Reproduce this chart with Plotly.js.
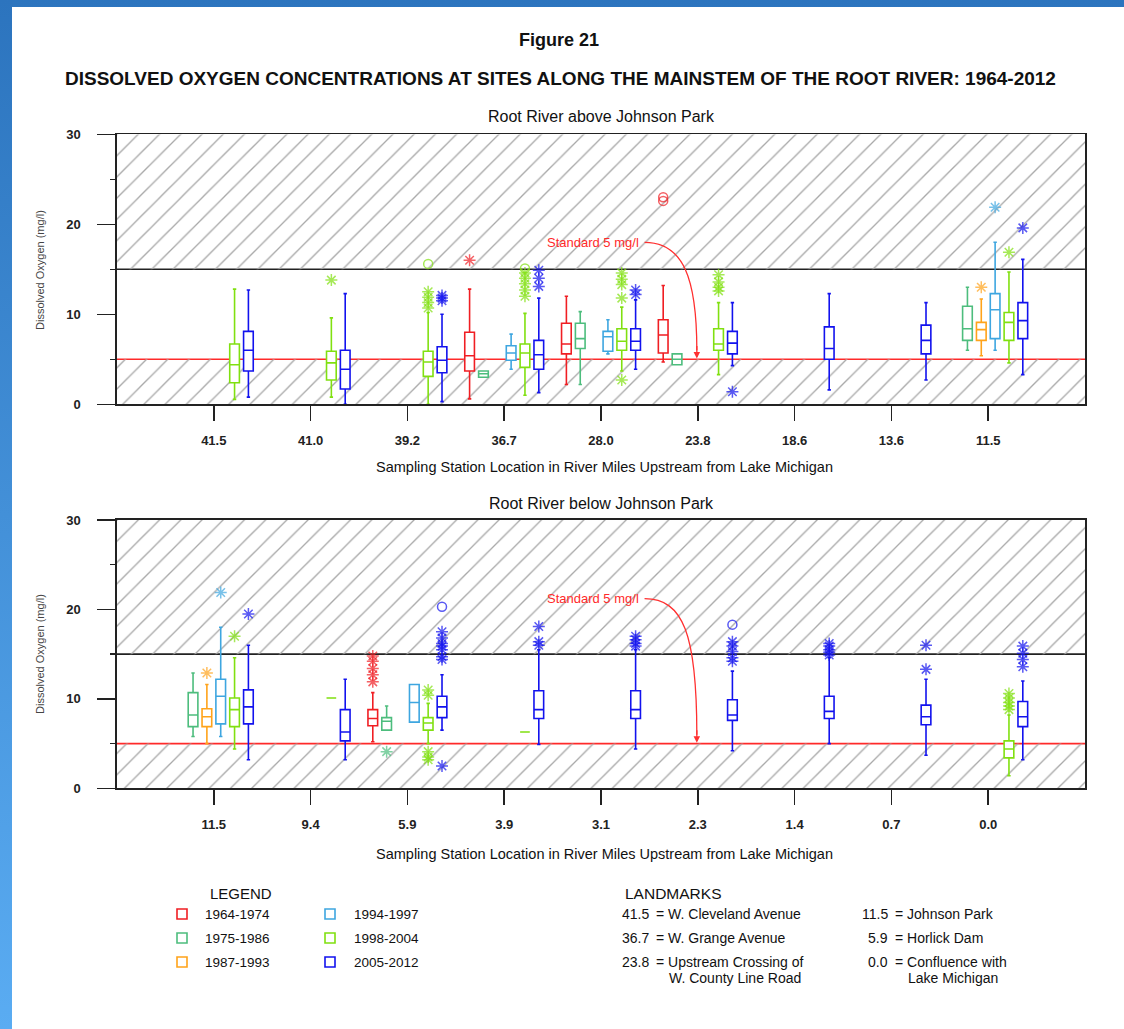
<!DOCTYPE html>
<html><head><meta charset="utf-8">
<script src="https://cdn.plot.ly/plotly-3.0.1.min.js"></script>
<style>
html,body{margin:0;padding:0;width:1124px;height:1029px;overflow:hidden;}
body{background:linear-gradient(to bottom,#2c74be,#5aacf2);}
#sheet{position:absolute;left:12px;top:7px;width:1112px;height:1022px;background:#fff;}
#chart{position:absolute;left:0;top:0;width:1124px;height:1029px;}
</style></head><body>
<div id="sheet"></div><div id="chart"></div>
<script>
// ---------------- DATA ----------------
const PERIODS = ['1964-1974','1975-1986','1987-1993','1994-1997','1998-2004','2005-2012'];
const TOP_SITES = ['41.5','41.0','39.2','36.7','28.0','23.8','18.6','13.6','11.5'];
const BOTTOM_SITES = ['11.5','9.4','5.9','3.9','3.1','2.3','1.4','0.7','0.0'];

// top panel boxes (site index, period index, whisker low, q1, median, q3, whisker high)
const TOP_SITE   = [0,0, 1,1, 2,2, 3,3,3,3,3, 4,4,4,4,4, 5,5,5,5, 6, 7, 8,8,8,8,8];
const TOP_PERIOD = [4,5, 4,5, 4,5, 0,1,3,4,5, 0,1,3,4,5, 0,1,4,5, 5, 5, 1,2,3,4,5];
const TOP_LOW  = [0.55,0.8, 0.8,0.0, 0.0,0.3, 0.6,3.0,3.9,1.0,1.3, 2.2,2.2,5.6,3.7,3.9, 4.7,4.4,3.3,4.3, 1.6, 2.7, 6.0,5.4,6.0,4.6,3.3];
const TOP_Q1   = [2.4,3.7, 2.7,1.7, 3.1,3.5, 3.7,3.0,4.9,4.1,3.9, 5.6,6.2,5.9,6.0,6.0, 5.7,4.4,6.0,5.6, 5.0, 5.6, 7.1,7.1,7.3,7.1,7.3];
const TOP_MED  = [4.4,6.0, 4.6,3.9, 4.7,4.9, 5.4,3.4,5.7,5.7,5.5, 6.7,7.3,7.5,7.0,7.0, 7.7,5.0,6.7,6.8, 6.2, 7.1, 8.4,8.3,10.5,9.1,9.3];
const TOP_Q3   = [6.7,8.1, 5.9,6.0, 5.9,6.4, 8.0,3.7,6.5,6.7,7.1, 9.0,9.0,8.1,8.4,8.4, 9.4,5.6,8.4,8.1, 8.6, 8.8, 10.9,9.1,12.3,10.2,11.3];
const TOP_HIGH = [12.8,12.7, 9.6,12.3, 10.2,10.0, 12.8,3.7,7.8,10.1,11.8, 12.0,10.3,9.4,10.8,11.6, 13.2,5.6,11.3,11.3, 12.3, 11.3, 13.0,11.7,18.0,14.7,16.1];

// top panel outliers
const TOP_OUT_SITE   = [1, 2,2,2,2,2, 2,2,2, 3, 3,3,3,3,3,3, 3,3,3, 4,4,4,4,4, 4,4, 5,5, 5,5,5,5, 5, 8,8,8,8];
const TOP_OUT_PERIOD = [4, 4,4,4,4,4, 5,5,5, 0, 4,4,4,4,4,4, 5,5,5, 4,4,4,4,4, 5,5, 0,0, 4,4,4,4, 5, 2,3,4,5];
const TOP_OUT_VALUE  = [13.8, 15.6,12.5,11.9,11.3,10.7, 12.1,11.8,11.5, 16.0, 15.1,14.6,14.0,13.4,12.7,12.0, 14.9,14.0,13.1, 14.6,13.9,13.3,11.8,2.7, 12.7,12.2, 23.0,22.6, 14.4,13.6,13.0,12.6, 1.4, 13.0,21.9,16.9,19.6];
const TOP_OUT_KIND   = ['s', 'c','s','s','s','s', 's','s','s', 's', 'c','s','s','s','s','s', 's','s','s', 's','s','s','s','s', 's','s', 'c','c', 's','s','s','s', 's', 's','s','s','s'];

// bottom panel boxes
const BOT_SITE   = [0,0,0,0,0, 1,1, 2,2,2,2,2, 3,3, 4, 5, 6, 7, 8,8];
const BOT_PERIOD = [1,2,3,4,5, 4,5, 0,1,3,4,5, 4,5, 5, 5, 5, 5, 4,5];
const BOT_LOW  = [5.8,5.0,5.8,4.4,3.2, 10.1,3.2, 5.2,6.5,7.4,5.0,6.5, 6.3,4.9, 4.4, 4.2, 5.0, 3.7, 1.4,3.2];
const BOT_Q1   = [6.9,6.9,7.2,6.9,7.2, 10.1,5.3, 7.0,6.5,7.4,6.5,7.9, 6.3,7.8, 7.8, 7.6, 7.8, 7.1, 3.4,6.9];
const BOT_MED  = [8.2,8.0,10.3,8.8,9.1, 10.1,6.3, 7.8,7.5,9.6,7.3,9.1, 6.3,8.8, 8.8, 8.2, 8.6, 8.0, 4.4,8.0];
const BOT_Q3   = [10.7,8.9,12.2,10.1,11.0, 10.1,8.8, 8.8,7.9,11.6,7.9,10.3, 6.3,10.9, 10.9, 9.9, 10.3, 9.3, 5.3,9.7];
const BOT_HIGH = [12.9,11.6,18.0,14.6,16.0, 10.1,12.2, 10.7,9.2,11.6,9.5,12.7, 6.3,15.5, 15.5, 13.1, 14.6, 12.2, 8.2,12.0];

// bottom panel outliers
const BOT_OUT_SITE   = [0,0,0,0, 2,2,2,2,2, 2, 2,2,2,2,2, 2,2,2,2,2,2,2,2,2, 3,3,3, 4,4,4,4, 5,5,5,5,5,5, 6,6,6,6,6, 7,7, 8,8,8,8,8, 8,8,8,8];
const BOT_OUT_PERIOD = [2,3,4,5, 0,0,0,0,0, 1, 4,4,4,4,4, 5,5,5,5,5,5,5,5,5, 5,5,5, 5,5,5,5, 5,5,5,5,5,5, 5,5,5,5,5, 5,5, 4,4,4,4,4, 5,5,5,5];
const BOT_OUT_VALUE  = [12.9,21.9,17.0,19.5, 14.8,14.2,13.4,12.7,11.9, 4.1, 11.0,10.4,4.1,3.5,3.2, 20.3,17.5,16.8,16.2,15.9,15.5,14.7,14.4,2.5, 18.1,16.4,16.0, 17.0,16.6,16.2,15.9, 18.3,16.4,15.9,15.3,14.6,14.2, 16.2,15.9,15.5,15.2,14.9, 16.0,13.3, 10.6,10.1,9.6,9.2,8.8, 15.9,15.1,14.4,13.6];
const BOT_OUT_KIND   = ['s','s','s','s', 's','s','s','s','s', 's', 's','s','s','s','s', 'c','s','s','s','s','s','s','s','s', 's','s','s', 's','s','s','s', 'c','s','s','s','s','s', 's','s','s','s','s', 's','s', 's','s','s','s','s', 's','s','s','s'];

const STANDARD = 5, UPPER_REF = 15, Y_MAX = 30;
const LANDMARK_NUM  = ['41.5','36.7','23.8','11.5','5.9','0.0'];
const LANDMARK_NAME = ['W. Cleveland Avenue','W. Grange Avenue','Upstream Crossing of','Johnson Park','Horlick Dam','Confluence with'];
const LANDMARK_NAME2 = ['','','W. County Line Road','','','Lake Michigan'];

// ---------------- STYLE / LAYOUT ----------------
const COLORS = ['#f01e23','#4dbd7d','#ffa31a','#3ea6e0','#80e010','#1212ee'];
const FONT = 'Liberation Sans, Arial, Helvetica, sans-serif';
const W = 1124, H = 1029;
const PL = 117, PR = 1085;
const TOP_T = 134.3, TOP_B = 404.3, BOT_T = 520, BOT_B = 788.3;
const px = x => x / W, py = y => 1 - y / H;
const NSITE = 9;
const offset = k => (k - 2.5) * 0.143;

const traces = [];

function panel(xa, ya, SITE, PER, LO, Q1, MED, Q3, HI, OS, OP, OV, OK) {
  // hatched zones (bars with pattern)
  [[UPPER_REF, Y_MAX - UPPER_REF], [0, STANDARD]].forEach(([b, h]) => {
    traces.push({type:'bar', x:[(NSITE + 1) / 2], y:[h], base:[b], width:[NSITE + 1],
      xaxis:xa, yaxis:ya, hoverinfo:'skip', showlegend:false,
      marker:{color:'rgba(0,0,0,0)', line:{width:0},
        pattern:{shape:'/', fgcolor:'#a8a8a8', size:15, solidity:0.09}}});
  });
  for (let p = 0; p < PERIODS.length; p++) {
    const idx = SITE.map((s, i) => i).filter(i => PER[i] === p);
    if (idx.length) {
      traces.push({type:'box', orientation:'v', xaxis:xa, yaxis:ya,
        x: idx.map(i => SITE[i] + 1 + offset(p)),
        lowerfence: idx.map(i => LO[i]), q1: idx.map(i => Q1[i]), median: idx.map(i => MED[i]),
        q3: idx.map(i => Q3[i]), upperfence: idx.map(i => HI[i]),
        width: 0.1, whiskerwidth: 0.35, boxpoints:false, fillcolor:'#ffffff',
        line:{color:COLORS[p], width:1.6}, hoverinfo:'skip', showlegend:false, name:PERIODS[p]});
    }
    const oidx = OS.map((s, i) => i).filter(i => OP[i] === p);
    if (oidx.length) {
      traces.push({type:'scatter', mode:'markers', xaxis:xa, yaxis:ya,
        x: oidx.map(i => OS[i] + 1 + offset(p)), y: oidx.map(i => OV[i]),
        marker:{symbol: oidx.map(i => OK[i] === 'c' ? 'circle-open' : 'asterisk-open'),
          size: oidx.map(i => OK[i] === 'c' ? 9 : 10), color:COLORS[p], line:{color:COLORS[p], width:1.5}},
        hoverinfo:'skip', showlegend:false});
    }
  }
}
panel('x','y', TOP_SITE, TOP_PERIOD, TOP_LOW, TOP_Q1, TOP_MED, TOP_Q3, TOP_HIGH, TOP_OUT_SITE, TOP_OUT_PERIOD, TOP_OUT_VALUE, TOP_OUT_KIND);
panel('x2','y2', BOT_SITE, BOT_PERIOD, BOT_LOW, BOT_Q1, BOT_MED, BOT_Q3, BOT_HIGH, BOT_OUT_SITE, BOT_OUT_PERIOD, BOT_OUT_VALUE, BOT_OUT_KIND);

function xax(labels, anchor) {
  return {domain:[px(PL), px(PR)], anchor, range:[0, NSITE + 1],
    tickmode:'array', tickvals: labels.map((l, i) => i + 1), ticktext: labels,
    ticks:'outside', ticklen:15, tickwidth:1.5, tickcolor:'#222',
    showline:true, linecolor:'#222', linewidth:1.6, mirror:true,
    showgrid:false, zeroline:false, ticklabelstandoff:8, fixedrange:true,
    tickfont:{family:FONT, size:13, color:'#222', weight:'bold'}};
}
function yax(anchor, t, b) {
  return {domain:[py(b), py(t)], anchor, range:[0, Y_MAX],
    tickmode:'array', tickvals:[0,10,20,30], ticks:'outside', ticklen:18, tickwidth:1.5, tickcolor:'#222',
    minor:{tickvals:[5,15,25], ticks:'outside', ticklen:5, tickwidth:1.5, tickcolor:'#222'},
    showline:true, linecolor:'#222', linewidth:1.6, mirror:true,
    showgrid:false, zeroline:false, ticklabelstandoff:14, fixedrange:true,
    tickfont:{family:FONT, size:13, color:'#222', weight:'bold'}};
}

const shapes = [];
const annotations = [];
function txt(text, x, y, size, opts) {
  annotations.push(Object.assign({text, xref:'paper', yref:'paper', x:px(x), y:py(y),
    xanchor:'center', yanchor:'middle', showarrow:false,
    font:{family:FONT, size, color:'#111'}}, opts || {}));
}

[['y', 'x', 18.0], ['y2', 'x2', 21.2]].forEach(([ya, xa, ty]) => {
  shapes.push({type:'line', xref:xa + ' domain', yref:ya, x0:0, x1:1, y0:UPPER_REF, y1:UPPER_REF, layer:'below', line:{color:'#222', width:1.6}});
  shapes.push({type:'line', xref:xa + ' domain', yref:ya, x0:0, x1:1, y0:STANDARD, y1:STANDARD, layer:'below', line:{color:'#ff2a2a', width:1.6}});
  shapes.push({type:'path', xref:xa, yref:ya, path:`M 5.45 ${ty} C 5.85 ${ty} 5.99 ${ty - 4} 5.99 6.0`, line:{color:'#ff3030', width:1.3}});
  annotations.push({xref:xa, yref:ya, x:5.99, y:STANDARD + 0.1, ax:0, ay:-14, text:'', showarrow:true,
    arrowhead:2, arrowsize:1, arrowwidth:1.3, arrowcolor:'#ff3030', standoff:0});
  annotations.push({xref:xa, yref:ya, x:5.41, y:ty, xanchor:'right', yanchor:'middle', text:'Standard 5 mg/l',
    showarrow:false, font:{family:FONT, size:13, color:'#ff2a2a'}});
});

txt('<b>Figure 21</b>', 559, 40, 18);
txt('<b>DISSOLVED OXYGEN CONCENTRATIONS AT SITES ALONG THE MAINSTEM OF THE ROOT RIVER: 1964-2012</b>', 560, 78, 19);
txt('Root River above Johnson Park', 601, 117, 16);
txt('Root River below Johnson Park', 601, 503, 16);
txt('Dissolved Oxygen (mg/l)', 40, 270, 11, {textangle:-90, font:{family:FONT, size:11, color:'#444'}});
txt('Dissolved Oxygen (mg/l)', 40, 654, 11, {textangle:-90, font:{family:FONT, size:11, color:'#444'}});
txt('Sampling Station Location in River Miles Upstream from Lake Michigan', 604, 467, 14.5);
txt('Sampling Station Location in River Miles Upstream from Lake Michigan', 604, 854, 14.5);

// legend
txt('LEGEND', 241, 893, 15);
const ROWS = [914, 938, 962];
PERIODS.forEach((p, i) => {
  const col = Math.floor(i / 3), row = i % 3;
  const sx = col ? 330 : 182, tx = col ? 352 : 203;
  shapes.push({type:'rect', xref:'paper', yref:'paper', x0:px(sx - 5), x1:px(sx + 5), y0:py(ROWS[row] + 5), y1:py(ROWS[row] - 5), line:{color:COLORS[i], width:1.6}, fillcolor:'rgba(0,0,0,0)'});
  txt(p, tx, ROWS[row], 13.5, {xanchor:'left'});
});

// landmarks
txt('LANDMARKS', 623, 893, 15.5, {xanchor:'left'});
LANDMARK_NUM.forEach((n, i) => {
  const col = Math.floor(i / 3), row = i % 3;
  const nx = col ? 890 : 651;
  txt(n, nx, ROWS[row], 14, {xanchor:'right'});
  txt('= ' + LANDMARK_NAME[i], nx + 3, ROWS[row], 14, {xanchor:'left'});
  if (LANDMARK_NAME2[i]) txt(LANDMARK_NAME2[i], nx + 16, ROWS[row] + 16, 14, {xanchor:'left'});
});

const layout = {width:W, height:H, margin:{l:0, r:0, t:0, b:0},
  paper_bgcolor:'rgba(0,0,0,0)', plot_bgcolor:'rgba(0,0,0,0)',
  showlegend:false, boxmode:'overlay', barmode:'overlay',
  font:{family:FONT, color:'#111'},
  xaxis: xax(TOP_SITES, 'y'), yaxis: yax('x', TOP_T, TOP_B),
  xaxis2: xax(BOTTOM_SITES, 'y2'), yaxis2: yax('x2', BOT_T, BOT_B),
  shapes, annotations};

Plotly.newPlot('chart', traces, layout, {displayModeBar:false, staticPlot:true});
</script></body></html>
